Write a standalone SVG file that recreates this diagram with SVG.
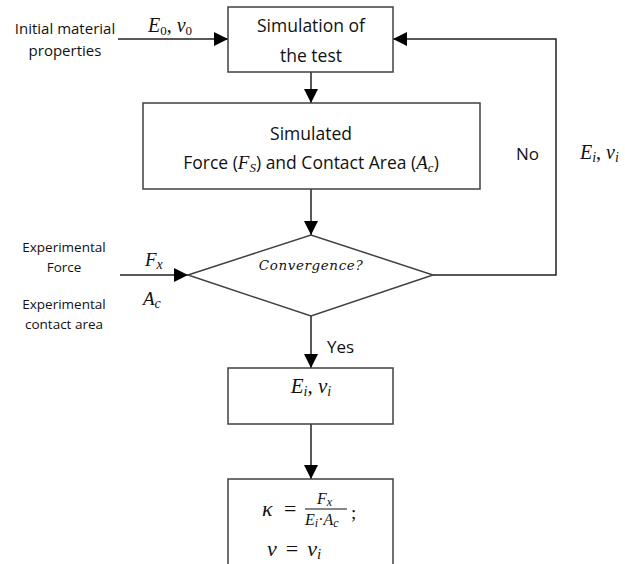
<svg xmlns="http://www.w3.org/2000/svg" width="625" height="564" viewBox="0 0 625 564">
<defs>
<marker id="ahb" markerWidth="14" markerHeight="14" refX="14" refY="7" orient="auto" markerUnits="userSpaceOnUse" viewBox="0 0 14 14">
<path d="M0,0 L14,7 L0,14 Z" fill="#000"/>
</marker>
</defs>
<style>
.box{fill:#fff;stroke:#404040;stroke-width:1.5}
.ln{fill:none;stroke:#222;stroke-width:1.5}
.t{font-family:"Open Sans","Liberation Sans",sans-serif;fill:#111}
.m{font-family:"Liberation Serif","DejaVu Serif",serif;font-style:italic;fill:#111}
.mu{font-family:"Liberation Serif","DejaVu Serif",serif;fill:#111}
</style>
<rect width="625" height="564" fill="#fff"/>
<g id="connectors">
<line class="ln" x1="118" y1="39" x2="228" y2="39" marker-end="url(#ahb)"/>
<line class="ln" x1="311" y1="72" x2="311" y2="103" marker-end="url(#ahb)"/>
<line class="ln" x1="311" y1="189" x2="311" y2="235" marker-end="url(#ahb)"/>
<line class="ln" x1="120" y1="275" x2="188" y2="275" marker-end="url(#ahb)"/>
<polyline class="ln" points="433,275 556,275 556,39 393,39" marker-end="url(#ahb)"/>
<line class="ln" x1="311" y1="316" x2="311" y2="368" marker-end="url(#ahb)"/>
<line class="ln" x1="311" y1="424" x2="311" y2="479" marker-end="url(#ahb)"/>
</g>
<g id="labels">
<text class="t" x="65" y="34" font-size="15" text-anchor="middle">Initial material</text>
<text class="t" x="65" y="56" font-size="15" text-anchor="middle">properties</text>
<text class="m" x="148" y="32" font-size="20">E<tspan font-size="13" dy="3" font-style="normal">0</tspan><tspan dy="-3" font-style="normal">,</tspan> ν<tspan font-size="13" dy="3" font-style="normal">0</tspan></text>
<text class="t" x="64" y="252" font-size="13.5" text-anchor="middle">Experimental</text>
<text class="t" x="64" y="272" font-size="13.5" text-anchor="middle">Force</text>
<text class="t" x="64" y="309" font-size="13.5" text-anchor="middle">Experimental</text>
<text class="t" x="64" y="329" font-size="13.5" text-anchor="middle">contact area</text>
<text class="m" x="145" y="266" font-size="19">F<tspan font-size="14" dy="3">x</tspan></text>
<text class="m" x="143" y="305" font-size="19">A<tspan font-size="14" dy="3">c</tspan></text>
<text class="t" x="516" y="160" font-size="17">No</text>
<text class="m" x="580" y="159" font-size="20">E<tspan font-size="14" dy="3">i</tspan><tspan dy="-3" font-style="normal">,</tspan> ν<tspan font-size="14" dy="3">i</tspan></text>
<text class="t" x="327" y="353" font-size="17">Yes</text>
</g>
<g id="sim">
<rect class="box" x="228" y="7" width="165" height="65"/>
<text class="t" x="311" y="32" font-size="17.5" text-anchor="middle">Simulation of</text>
<text class="t" x="311" y="62" font-size="17.5" text-anchor="middle">the test</text>
</g>
<g id="simulated">
<rect class="box" x="143" y="103" width="337" height="86"/>
<text class="t" x="311" y="140" font-size="17.5" text-anchor="middle">Simulated</text>
<text class="t" x="311" y="169" font-size="17.5" text-anchor="middle">Force (<tspan class="m" font-size="19">F</tspan><tspan class="m" font-size="13" dy="3">S</tspan><tspan dy="-3">) and Contact Area (</tspan><tspan class="m" font-size="19">A</tspan><tspan class="m" font-size="13" dy="3">c</tspan><tspan dy="-3">)</tspan></text>
</g>
<g id="convergence">
<polygon class="box" points="188,275 311,235 433,275 311,316"/>
<text x="311" y="270" font-size="13.5" text-anchor="middle" letter-spacing="0.6" style="font-family:'DejaVu Serif','Liberation Serif',serif;font-style:italic;fill:#111">Convergence?</text>
</g>
<g id="result">
<rect class="box" x="228" y="368" width="165" height="56"/>
<text class="m" x="311" y="393" font-size="21" text-anchor="middle">E<tspan font-size="14" dy="3">i</tspan><tspan dy="-3" font-style="normal">,</tspan> ν<tspan font-size="14" dy="3">i</tspan></text>
</g>
<g id="formula">
<rect class="box" x="228" y="479" width="165" height="90"/>
<text class="m" x="262" y="516" font-size="22">κ</text>
<text class="mu" x="284" y="516" font-size="22">=</text>
<line x1="305" y1="509" x2="347" y2="509" stroke="#111" stroke-width="1.2"/>
<text class="m" x="317" y="504" font-size="16">F<tspan font-size="12" dy="2">x</tspan></text>
<text class="m" x="305" y="525" font-size="16">E<tspan font-size="12" dy="2">i</tspan><tspan dy="-2" font-style="normal">·</tspan>A<tspan font-size="12" dy="2">c</tspan></text>
<text class="mu" x="351" y="519" font-size="19">;</text>
<text class="m" x="267" y="556" font-size="22">ν<tspan font-style="normal" dx="9">=</tspan><tspan dx="9">ν</tspan><tspan font-size="15" dy="3">i</tspan></text>
</g>
</svg>
